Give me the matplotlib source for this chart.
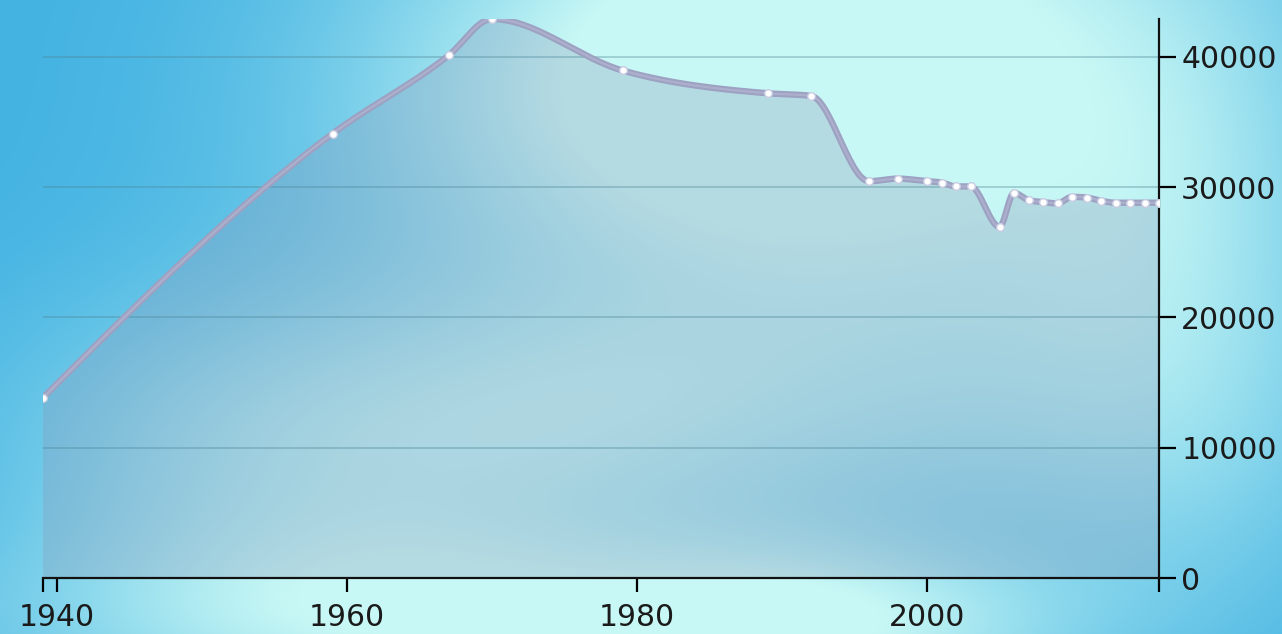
import matplotlib
import numpy as np

matplotlib.use("Agg")
import matplotlib.pyplot as plt


YEARS = [1939, 1959, 1967, 1970, 1979, 1989, 1992, 1996, 1998, 2000, 2001, 2002, 2003,
         2005, 2006, 2007, 2008, 2009, 2010, 2011, 2012, 2013, 2014, 2015, 2016]
POPULATION = [13800, 34100, 40100, 42900, 38950, 37200, 37000, 30450, 30650, 30450, 30350,
              30050, 30050, 26950, 29550, 29000, 28850, 28750, 29250, 29200, 28950, 28800,
              28800, 28800, 28800]
X_TICKS = [1940, 1960, 1980, 2000]
Y_TICKS = [0, 10000, 20000, 30000, 40000]

W, H = 1282, 634


def _monotone_curve(x, y, steps=30):
    # monotone cubic (Steffen), same shape as d3.curveMonotoneX
    x = np.asarray(x, dtype=float)
    y = np.asarray(y, dtype=float)
    h = np.diff(x)
    s = np.diff(y) / h
    m = np.zeros_like(y)
    for i in range(1, len(x) - 1):
        p = (s[i - 1] * h[i] + s[i] * h[i - 1]) / (h[i - 1] + h[i])
        m[i] = (np.sign(s[i - 1]) + np.sign(s[i])) * min(abs(s[i - 1]), abs(s[i]), 0.5 * abs(p))
    m[0] = (3 * s[0] - m[1]) / 2
    m[-1] = (3 * s[-1] - m[-2]) / 2

    xs, ys = [], []
    for i in range(len(x) - 1):
        t = np.linspace(0, 1, steps, endpoint=False)
        h00 = 2 * t**3 - 3 * t**2 + 1
        h10 = t**3 - 2 * t**2 + t
        h01 = -2 * t**3 + 3 * t**2
        h11 = t**3 - t**2
        xs.append(x[i] + t * h[i])
        ys.append(h00 * y[i] + h10 * h[i] * m[i] + h01 * y[i + 1] + h11 * h[i] * m[i + 1])
    xs.append([x[-1]])
    ys.append([y[-1]])
    return np.concatenate(xs), np.concatenate(ys)


def _background():
    yy, xx = np.mgrid[0:H, 0:W].astype(float)
    blobs = [
        (860, 20, 270, 180, 1.0),
        (600, 120, 220, 140, 0.5),
        (280, 460, 200, 120, 0.6),
        (600, 420, 200, 100, 0.55),
        (450, 625, 300, 70, 0.8),
        (850, 625, 160, 60, 0.6),
        (1180, 150, 120, 150, 0.3),
        (1000, 380, 220, 160, 0.5),
        (1200, 420, 120, 150, 0.25),
        (950, 560, 120, 60, -0.1),
    ]
    light = np.zeros((H, W))
    for bx, by, sx, sy, amp in blobs:
        light += amp * np.exp(-((xx - bx) ** 2 / (2 * sx**2) + (yy - by) ** 2 / (2 * sy**2)))
    light = np.clip(light, 0, 1)[..., None]
    blue = np.array([0x42, 0xb2, 0xe2]) / 255
    pale = np.array([0xc8, 0xf8, 0xf5]) / 255
    return blue * (1 - light) + pale * light


def main() -> None:
    fig = plt.figure(figsize=(W / 100, H / 100), dpi=100)

    bg = fig.add_axes([0, 0, 1, 1])
    bg.imshow(_background(), aspect="auto", interpolation="bilinear")
    bg.axis("off")

    ax = fig.add_axes([42.5 / W, 56 / H, (1159 - 42.5) / W, (578 - 19) / H])
    ax.set_facecolor("none")

    cx, cy = _monotone_curve(YEARS, POPULATION)
    ax.fill_between(cx, 0, cy, color="#8a98b8", alpha=0.3, linewidth=0, zorder=1)
    for v in Y_TICKS[1:]:
        ax.axhline(v, color="#4d8595", alpha=0.35, linewidth=1.4, zorder=2)
    ax.plot(cx, cy, color="#9da1c2", linewidth=4.6, solid_capstyle="round", zorder=3)
    ax.plot(cx, cy, color="#acb0cc", linewidth=1.6, zorder=3)
    ax.plot(YEARS, POPULATION, linestyle="none", marker="o", markersize=5.5,
            markerfacecolor="white", markeredgecolor="#c8cce2", markeredgewidth=1.0, zorder=4)

    ax.set_xlim(YEARS[0], YEARS[-1])
    ax.set_ylim(0, max(POPULATION))

    for side in ("left", "top"):
        ax.spines[side].set_visible(False)
    for side in ("right", "bottom"):
        ax.spines[side].set_linewidth(1.6)
        ax.spines[side].set_color("#111111")

    ax.yaxis.tick_right()
    ax.set_yticks(Y_TICKS)
    ax.set_yticklabels([str(v) for v in Y_TICKS])
    ax.set_xticks([YEARS[0]] + X_TICKS + [YEARS[-1]])
    ax.set_xticklabels([""] + [str(v) for v in X_TICKS] + [""])
    ax.tick_params(axis="y", direction="out", length=12, width=1.6, pad=4,
                   labelsize=21.5, labelcolor="#1a1a1a")
    ax.tick_params(axis="x", direction="out", length=10, width=1.6, pad=8,
                   labelsize=21.5, labelcolor="#1a1a1a")

    fig.savefig("out.png", dpi=100)
    plt.close(fig)


if __name__ == "__main__":
    main()
